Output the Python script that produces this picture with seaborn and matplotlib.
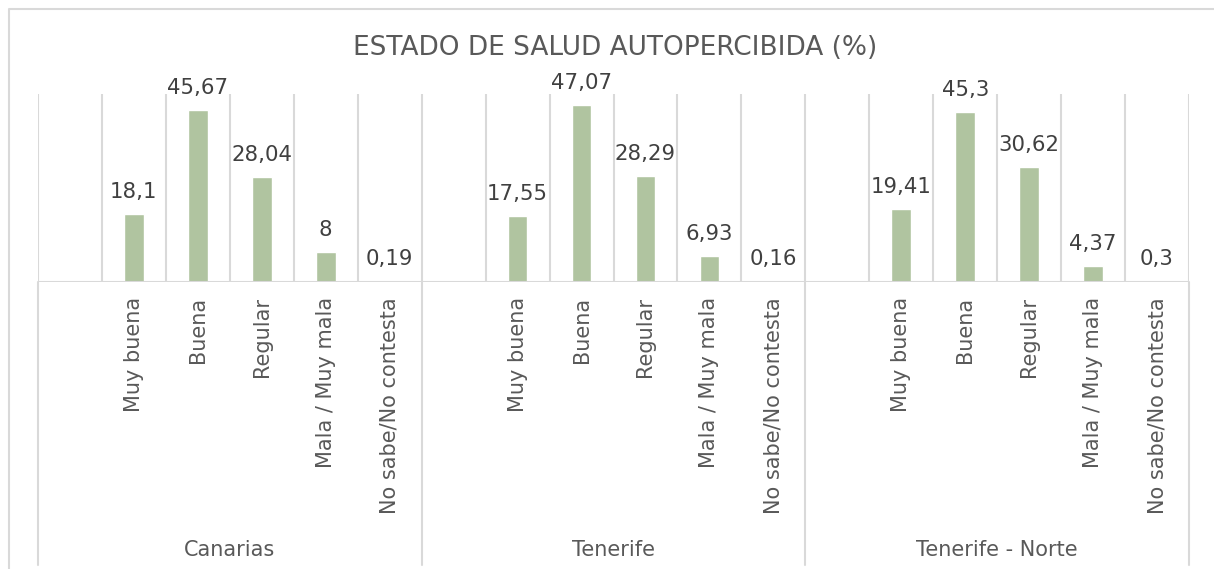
import matplotlib
matplotlib.use("Agg")
import matplotlib.pyplot as plt
import matplotlib.transforms as mtransforms
from matplotlib.lines import Line2D
import pandas as pd
import seaborn as sns

# Survey data: self-perceived health status (%)
regions = ["Canarias", "Tenerife", "Tenerife - Norte"]
categories = ["Muy buena", "Buena", "Regular", "Mala / Muy mala", "No sabe/No contesta"]
canarias = [18.1, 45.67, 28.04, 8, 0.19]
tenerife = [17.55, 47.07, 28.29, 6.93, 0.16]
tenerife_norte = [19.41, 45.3, 30.62, 4.37, 0.3]
title = "ESTADO DE SALUD AUTOPERCIBIDA (%)"

series = [canarias, tenerife, tenerife_norte]

# Each region gets a blank leading slot followed by its five categories
order, slot_labels, rows = [], [], []
for region, vals in zip(regions, series):
    blank = f"{region}|"
    order.append(blank)
    slot_labels.append("")
    for cat, v in zip(categories, vals):
        key = f"{region}|{cat}"
        order.append(key)
        slot_labels.append(cat)
        rows.append({"slot": key, "value": v})
df = pd.DataFrame(rows)

sns.set_theme(style="white")
plt.rcParams["font.family"] = ["DejaVu Sans"]
text_color = "#595959"
value_color = "#404040"
grid_color = "#D9D9D9"
bar_color = "#B0C4A0"

W, H, DPI = 1214, 569, 100
fig = plt.figure(figsize=(W / DPI, H / DPI), dpi=DPI)
fig.patch.set_facecolor("white")

left_px, right_px, top_px, base_px = 38, 1189, 94, 282
ax = fig.add_axes([left_px / W, 1 - base_px / H,
                   (right_px - left_px) / W, (base_px - top_px) / H])

sns.barplot(data=df, x="slot", y="value", order=order, color=bar_color,
            width=0.31, saturation=1, ax=ax, zorder=3)

n = len(order)
ax.set_xlim(-0.5, n - 0.5)
ax.set_ylim(0, 50)
for s in ax.spines.values():
    s.set_visible(False)
ax.set_yticks([])
ax.set_xticks([])
ax.set_xlabel("")
ax.set_ylabel("")

# Vertical gridlines at slot boundaries and the category baseline
for i in range(n + 1):
    ax.axvline(i - 0.5, color=grid_color, lw=1.5, zorder=1)
ax.axhline(0, color=grid_color, lw=1.5, zorder=4)

# Value labels above bars
for container in ax.containers:
    for bar in container:
        h = bar.get_height()
        if pd.isna(h):
            continue
        ax.annotate(f"{h:g}".replace(".", ","),
                    (bar.get_x() + bar.get_width() / 2, h),
                    xytext=(0, 11.5), textcoords="offset points",
                    ha="center", va="baseline", fontsize=15.3, color=value_color)

# Category labels (rotated) below the baseline
axis_h = base_px - top_px
trans = mtransforms.blended_transform_factory(ax.transData, ax.transAxes)
for i, lab in enumerate(slot_labels):
    if lab:
        ax.text(i, -15 / axis_h, lab, transform=trans, rotation=90,
                ha="center", va="top", fontsize=15, color=text_color)

# Region labels and dividers
group = len(categories) + 1
for g, region in enumerate(regions):
    center = g * group + (group - 1) / 2
    ax.text(center, -(550 - base_px) / axis_h, region, transform=trans,
            ha="center", va="center", fontsize=15, color=text_color)
for g in range(len(regions) + 1):
    x = g * group - 0.5
    ax.add_line(Line2D([x, x], [0, -(565 - base_px) / axis_h], transform=trans,
                       color=grid_color, lw=1.5, clip_on=False))

fig.text(615 / W, 1 - 48 / H, title, ha="center", va="center",
         fontsize=19, color=text_color)

# Chart border
fig.add_artist(Line2D([9 / W, 9 / W, 1.0], [0.0, 1 - 9 / H, 1 - 9 / H],
                      transform=fig.transFigure, color=grid_color, lw=1.5))

fig.savefig("out.png", dpi=DPI)
